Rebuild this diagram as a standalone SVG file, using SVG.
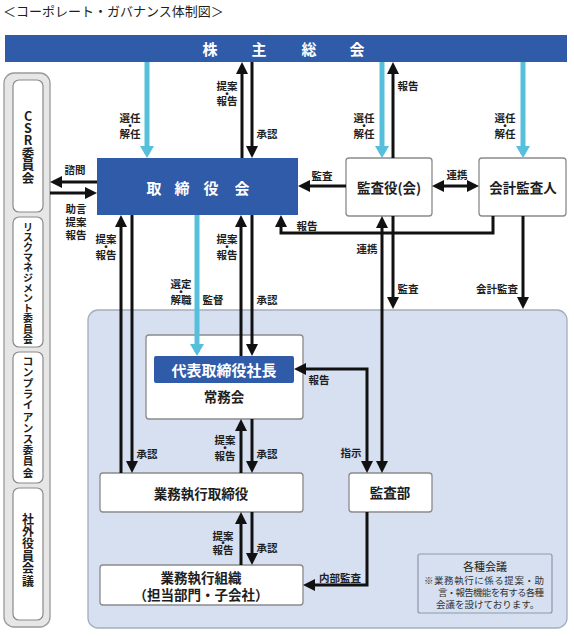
<svg xmlns="http://www.w3.org/2000/svg" width="574" height="636" viewBox="0 0 574 636">
<style>
text{font-family:"Noto Sans CJK JP","Noto Sans",sans-serif;dominant-baseline:central;fill:#1e1e1e}
.t{font-size:13px}
.nb{font-size:13.5px;font-weight:bold;text-anchor:middle}
.wb{font-size:15px;font-weight:bold;text-anchor:middle;fill:#fff}
.lb{font-size:10.5px;font-weight:bold;text-anchor:middle}
.vt{font-weight:bold;text-anchor:middle}
.blue{fill:#2f5ba8}
.box{fill:#fff;stroke:#8a8a8a;stroke-width:1.3}
.col{fill:#e6e6e6;stroke:#9a9a9a;stroke-width:1.3}
.cbox{fill:#fff;stroke:#8a8a8a;stroke-width:1.2}
.panel{fill:#d6e0f1;stroke:#a4adbd;stroke-width:1.3}
.note{fill:#d6e0f1;stroke:#8c97aa;stroke-width:1.2}
.k{fill:none;stroke:#111;stroke-width:3}
.c{fill:none;stroke:#56bfdc;stroke-width:5}
.nt{font-size:9.5px;fill:#333}
</style>
<defs>
<marker id="ah" viewBox="0 0 12 12" markerWidth="12" markerHeight="12" refX="8" refY="6" orient="auto-start-reverse" markerUnits="userSpaceOnUse"><path d="M0,0 L12,6 L0,12 z" fill="#111"/></marker>
<marker id="ch" viewBox="0 0 12 14" markerWidth="12" markerHeight="14" refX="8" refY="7" orient="auto-start-reverse" markerUnits="userSpaceOnUse"><path d="M0,0 L12,7 L0,14 z" fill="#56bfdc"/></marker>
</defs>

<text id="title" class="t" x="3" y="10">＜コーポレート・ガバナンス体制図＞</text>

<rect id="panel" class="panel" x="88" y="310" width="479" height="318" rx="10"/>

<g id="sokai">
<rect class="blue" x="5" y="35" width="562" height="27"/>
<text class="wb" x="210 259 309 357" y="48.5">株主総会</text>
</g>

<g id="committees">
<rect class="col" x="4" y="73" width="46" height="554" rx="10"/>
<g id="csr">
<rect class="cbox" x="13" y="80" width="30" height="132" rx="6"/>
<text class="vt" font-size="12.5" x="28 28 28 28 28 28" y="115 127.4 139.8 152.2 164.6 177">CSR委員会</text>
</g>
<g id="risk">
<rect class="cbox" x="13" y="217" width="30" height="130" rx="6"/>
<text class="vt" font-size="10" x="28 28 28 28 28 28 28 28 28 28 28 28" y="226 236.2 246.4 256.6 266.8 277 287.2 297.4 307.6 317.8 328 338.2">リスクマネジメント委員会</text>
</g>
<g id="compliance">
<rect class="cbox" x="13" y="352" width="30" height="131" rx="6"/>
<text class="vt" font-size="10.6" x="28 28 28 28 28 28 28 28 28 28 28" y="360 371.2 382.4 393.6 404.8 416 427.2 438.4 449.6 460.8 472">コンプライアンス委員会</text>
</g>
<g id="outside">
<rect class="cbox" x="13" y="488" width="30" height="132" rx="6"/>
<text class="vt" font-size="12" x="28 28 28 28 28 28" y="518 530.4 542.8 555.2 567.6 580">社外役員会議</text>
</g>
</g>

<g id="board">
<rect class="blue" x="97" y="158" width="201" height="57"/>
<text class="wb" font-size="16" x="154 182 211 242" y="187">取締役会</text>
</g>

<g id="kansayaku">
<rect class="box" x="346" y="158" width="86" height="58" rx="3"/>
<text class="nb" x="389" y="187">監査役(会)</text>
</g>

<g id="kaikei">
<rect class="box" x="479" y="158" width="87" height="58" rx="3"/>
<text class="nb" x="523" y="187">会計監査人</text>
</g>

<g id="jomukai">
<rect class="box" x="146" y="335" width="157" height="84" rx="3"/>
<rect class="blue" x="154" y="356" width="140" height="27" rx="2"/>
<text class="wb" font-size="14" x="224" y="369.5">代表取締役社長</text>
<text class="nb" x="224" y="396">常務会</text>
</g>

<g id="shikko">
<rect class="box" x="100" y="473" width="203" height="39" rx="3"/>
<text class="nb" x="201" y="493">業務執行取締役</text>
</g>

<g id="kansabu">
<rect class="box" x="349" y="473" width="83" height="39" rx="3"/>
<text class="nb" x="390" y="492">監査部</text>
</g>

<g id="soshiki">
<rect class="box" x="100" y="565" width="203" height="40" rx="3"/>
<text class="nb" font-size="13"><tspan x="201" y="577">業務執行組織</tspan><tspan x="201" y="594">（担当部門・子会社）</tspan></text>
</g>

<g id="note">
<rect class="note" x="418" y="554" width="134" height="59" rx="2"/>
<text x="485" y="566" font-size="11" text-anchor="middle">各種会議</text>
<text class="nt"><tspan x="424" y="580" textLength="120" lengthAdjust="spacing">※業務執行に係る提案・助</tspan><tspan x="438" y="592" textLength="106" lengthAdjust="spacing">言・報告機能を有する各種</tspan><tspan x="436" y="604">会議を設けております。</tspan></text>
</g>

<g id="connectors">
<path class="c" d="M147,62 L147,154" marker-end="url(#ch)"/>
<path class="c" d="M382,62 L382,154" marker-end="url(#ch)"/>
<path class="c" d="M523,62 L523,154" marker-end="url(#ch)"/>
<path class="c" d="M197,215 L197,352" marker-end="url(#ch)"/>
<path class="k" d="M242,158 L242,66" marker-end="url(#ah)"/>
<path class="k" d="M252,62 L252,154" marker-end="url(#ah)"/>
<path class="k" d="M393,158 L393,66" marker-end="url(#ah)"/>
<path class="k" d="M97,182 L54,182" marker-end="url(#ah)"/>
<path class="k" d="M50,193 L93,193" marker-end="url(#ah)"/>
<path class="k" d="M346,186 L302,186" marker-end="url(#ah)"/>
<path class="k" d="M436,186 L475,186" marker-start="url(#ah)" marker-end="url(#ah)"/>
<path class="k" d="M493,216 L493,233 L281,233 L281,219" marker-end="url(#ah)"/>
<path class="k" d="M382,220 L382,469" marker-start="url(#ah)" marker-end="url(#ah)"/>
<path class="k" d="M393,216 L393,305" marker-end="url(#ah)"/>
<path class="k" d="M523,216 L523,305" marker-end="url(#ah)"/>
<path class="k" d="M241,356 L241,219" marker-end="url(#ah)"/>
<path class="k" d="M252,215 L252,352" marker-end="url(#ah)"/>
<path class="k" d="M121,473 L121,219" marker-end="url(#ah)"/>
<path class="k" d="M132,215 L132,469" marker-end="url(#ah)"/>
<path class="k" d="M241,473 L241,423" marker-end="url(#ah)"/>
<path class="k" d="M252,419 L252,469" marker-end="url(#ah)"/>
<path class="k" d="M241,565 L241,516" marker-end="url(#ah)"/>
<path class="k" d="M252,512 L252,561" marker-end="url(#ah)"/>
<path class="k" d="M298,369 L367,369 L367,469" marker-start="url(#ah)" marker-end="url(#ah)"/>
<path class="k" d="M367,512 L367,585 L307,585" marker-end="url(#ah)"/>
</g>

<g id="labels">
<text class="lb"><tspan x="130" y="117">選任</tspan><tspan x="130" y="125">・</tspan><tspan x="130" y="133">解任</tspan></text>
<text class="lb"><tspan x="227" y="85">提案</tspan><tspan x="227" y="92.5">・</tspan><tspan x="227" y="100">報告</tspan></text>
<text class="lb" x="267" y="133">承認</text>
<text class="lb"><tspan x="364" y="117">選任</tspan><tspan x="364" y="125">・</tspan><tspan x="364" y="133">解任</tspan></text>
<text class="lb" x="408" y="85">報告</text>
<text class="lb"><tspan x="505" y="117">選任</tspan><tspan x="505" y="125">・</tspan><tspan x="505" y="133">解任</tspan></text>
<text class="lb" x="75" y="169">諮問</text>
<text class="lb"><tspan x="76" y="208">助言</tspan><tspan x="76" y="221">提案</tspan><tspan x="76" y="234">報告</tspan></text>
<text class="lb" x="322" y="175">監査</text>
<text class="lb" x="457" y="174">連携</text>
<text class="lb" x="307" y="225">報告</text>
<text class="lb"><tspan x="106" y="238">提案</tspan><tspan x="106" y="246">・</tspan><tspan x="106" y="254">報告</tspan></text>
<text class="lb"><tspan x="227" y="238">提案</tspan><tspan x="227" y="246">・</tspan><tspan x="227" y="254">報告</tspan></text>
<text class="lb"><tspan x="181" y="283">選定</tspan><tspan x="181" y="291">・</tspan><tspan x="181" y="299">解職</tspan></text>
<text class="lb" x="213" y="299">監督</text>
<text class="lb" x="267" y="299">承認</text>
<text class="lb" x="367" y="248">連携</text>
<text class="lb" x="408" y="288">監査</text>
<text class="lb" x="497" y="288">会計監査</text>
<text class="lb" x="319" y="379">報告</text>
<text class="lb" x="351" y="452">指示</text>
<text class="lb" x="147" y="453">承認</text>
<text class="lb"><tspan x="225" y="439">提案</tspan><tspan x="225" y="447">・</tspan><tspan x="225" y="455">報告</tspan></text>
<text class="lb" x="267" y="453">承認</text>
<text class="lb"><tspan x="223" y="535">提案</tspan><tspan x="223" y="542">・</tspan><tspan x="223" y="549">報告</tspan></text>
<text class="lb" x="267" y="547">承認</text>
<text class="lb" x="340" y="577">内部監査</text>
</g>
</svg>
